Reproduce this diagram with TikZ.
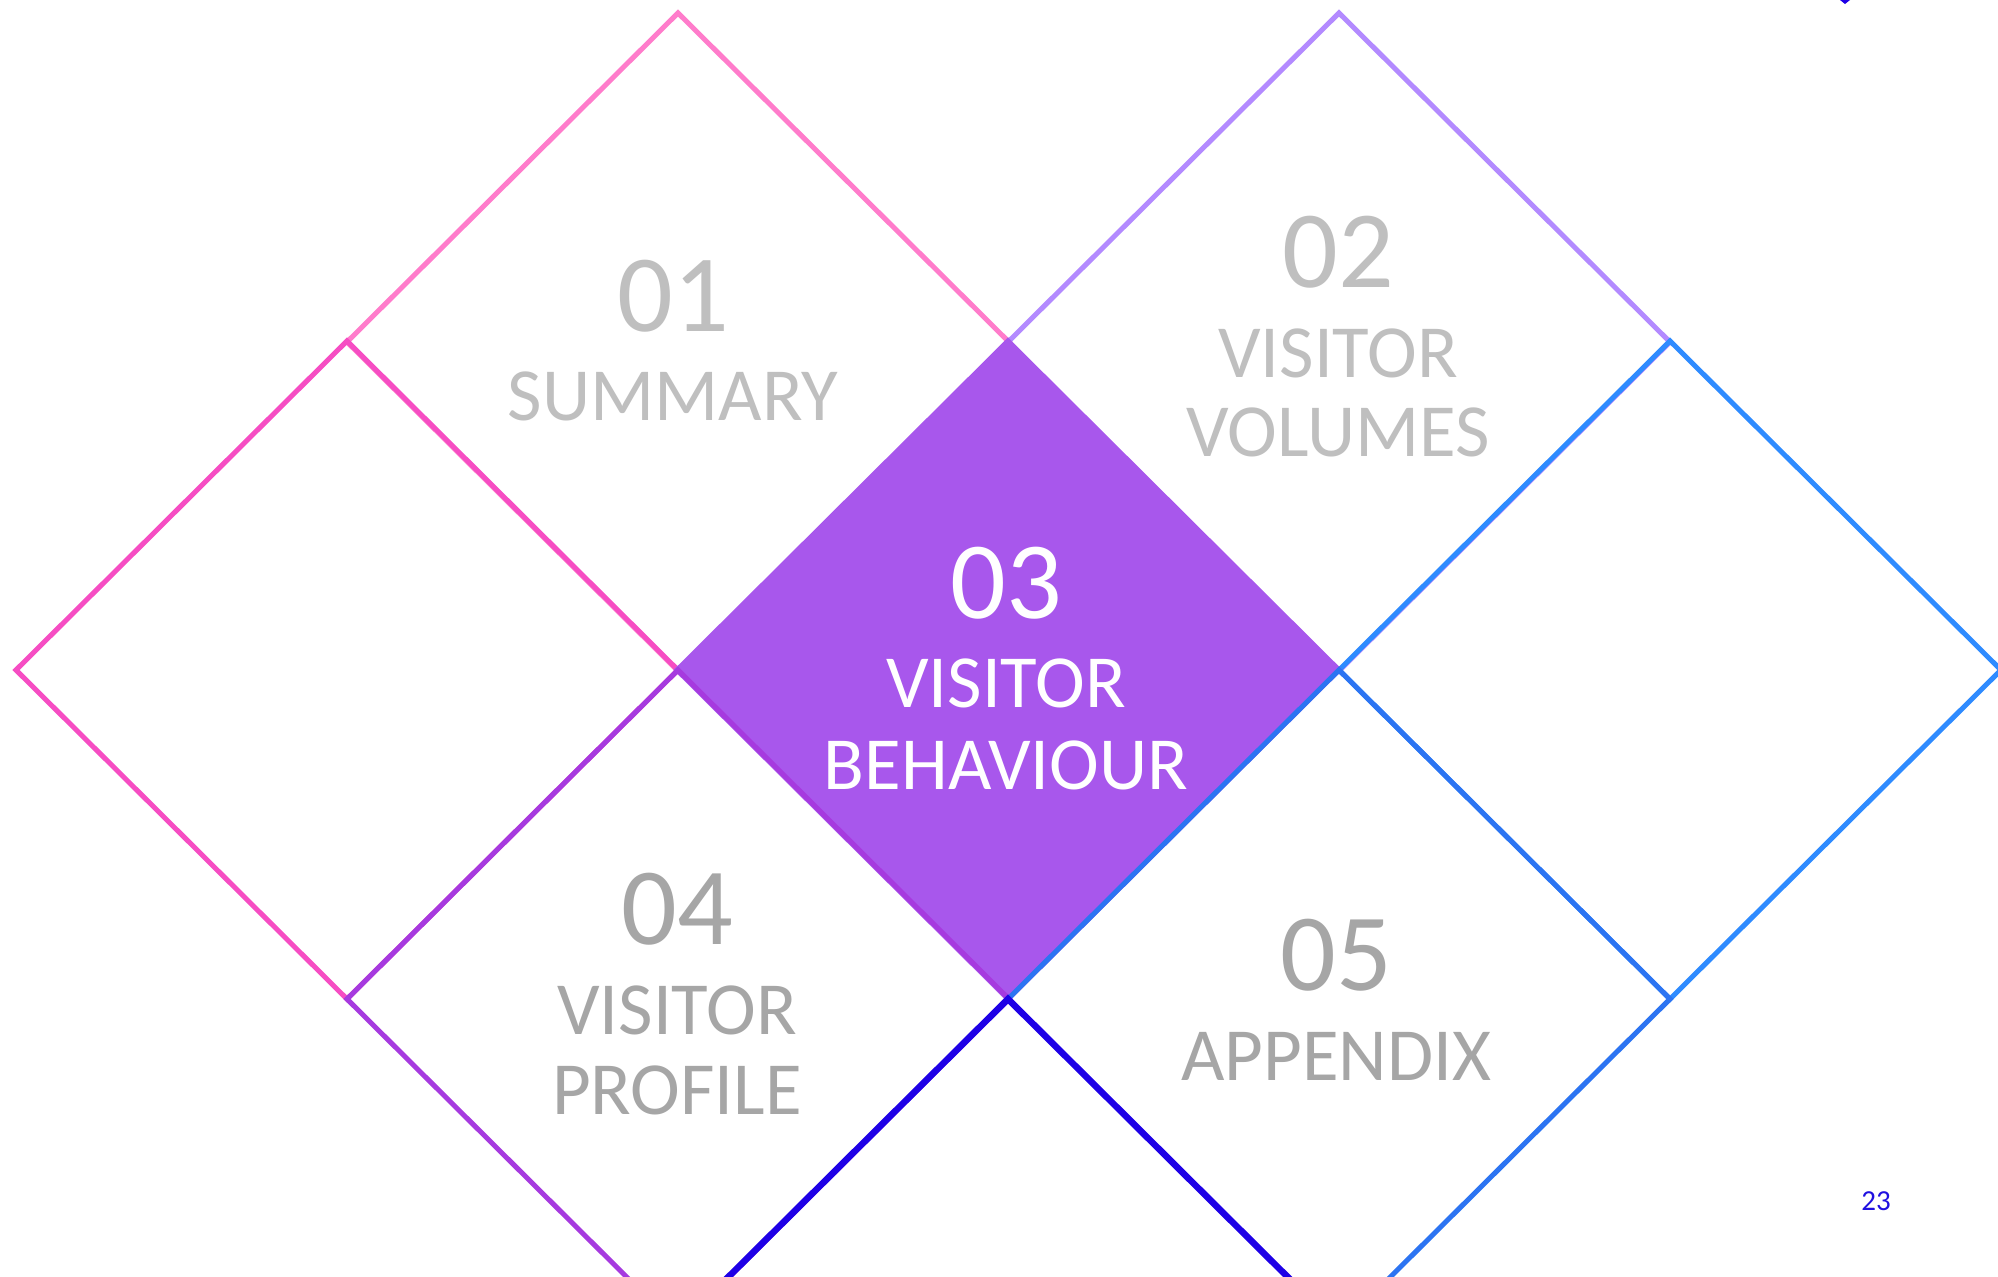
\documentclass[tikz,border=0pt]{standalone}
\usepackage{fontspec}
\setmainfont{Carlito}
\definecolor{pinklight}{HTML}{FF7CCB}
\definecolor{pinkdeep}{HTML}{F64DC3}
\definecolor{lavender}{HTML}{B38AFF}
\definecolor{skyblue}{HTML}{2E8BFF}
\definecolor{midblue}{HTML}{2C74F2}
\definecolor{violetline}{HTML}{A63ADF}
\definecolor{deepblue}{HTML}{1E00E6}
\definecolor{fillthree}{HTML}{A857EC}
\definecolor{greylight}{HTML}{BFBFBF}
\definecolor{greydark}{HTML}{A6A6A6}
\definecolor{pagenum}{HTML}{2010E0}
\begin{document}
\begin{tikzpicture}[x=1pt,y=-1pt,
  frame/.style={line width=5pt},
  diamondpath/.style={insert path={++(0,-329) -- ++(331,329) -- ++(-331,329) -- ++(-331,-329) -- cycle}},
  numtext/.style={anchor=base, inner sep=0pt, font=\fontsize{110}{110}\selectfont},
  labtext/.style={anchor=base, inner sep=0pt, font=\fontsize{75}{80}\selectfont},
]
\useasboundingbox (0,0) rectangle (1998,1277);
\fill[white] (0,0) rectangle (1998,1277);
\clip (0,0) rectangle (1998,1277);
\coordinate (c01) at (678,342);
\coordinate (c02) at (1339,342);
\coordinate (cL) at (347,670);
\coordinate (cR) at (1670,670);
\coordinate (c03) at (1008,670);
\coordinate (c04) at (678,999);
\coordinate (c05) at (1339,999);
\coordinate (cB) at (1008,1328);
% frames
\draw[frame, draw=pinklight] (c01) [diamondpath];
\draw[frame, draw=lavender] (c02) [diamondpath];
\draw[frame, draw=pinkdeep] (cL) [diamondpath];
\draw[frame, draw=skyblue] (cR) [diamondpath];
\filldraw[frame, draw=fillthree, fill=fillthree] (c03) [diamondpath];
\draw[frame, draw=violetline] (c04) [diamondpath];
\draw[frame, draw=midblue] (c05) [diamondpath];
\draw[line width=6.5pt, draw=deepblue] (cB) [diamondpath];
% small mark top right
\fill[deepblue] (1840,0) -- (1850,0) -- (1845,4) -- cycle;
% texts
\node[numtext, text=greylight] (n01) at (673,331) {01};
\node[labtext, text=greylight] (l01) at (673,420) {SUMMARY};
\node[numtext, text=greylight] (n02) at (1338,287) {02};
\node[labtext, text=greylight] (l02a) at (1338,377) {VISITOR};
\node[labtext, text=greylight] (l02b) at (1338,456) {VOLUMES};
\node[numtext, text=white] (n03) at (1006,618) {03};
\node[labtext, text=white] (l03a) at (1006,707) {VISITOR};
\node[labtext, text=white] (l03b) at (1006,789) {BEHAVIOUR};
\node[numtext, text=greydark] (n04) at (677,944) {04};
\node[labtext, text=greydark] (l04a) at (677,1034) {VISITOR};
\node[labtext, text=greydark] (l04b) at (677,1114) {PROFILE};
\node[numtext, text=greydark] (n05) at (1336,990) {05};
\node[labtext, text=greydark] (l05) at (1336,1080) {APPENDIX};
\node[anchor=base, inner sep=0pt, font=\fontsize{29}{29}\selectfont, text=pagenum] (pg) at (1876,1210) {23};
\end{tikzpicture}
\end{document}
